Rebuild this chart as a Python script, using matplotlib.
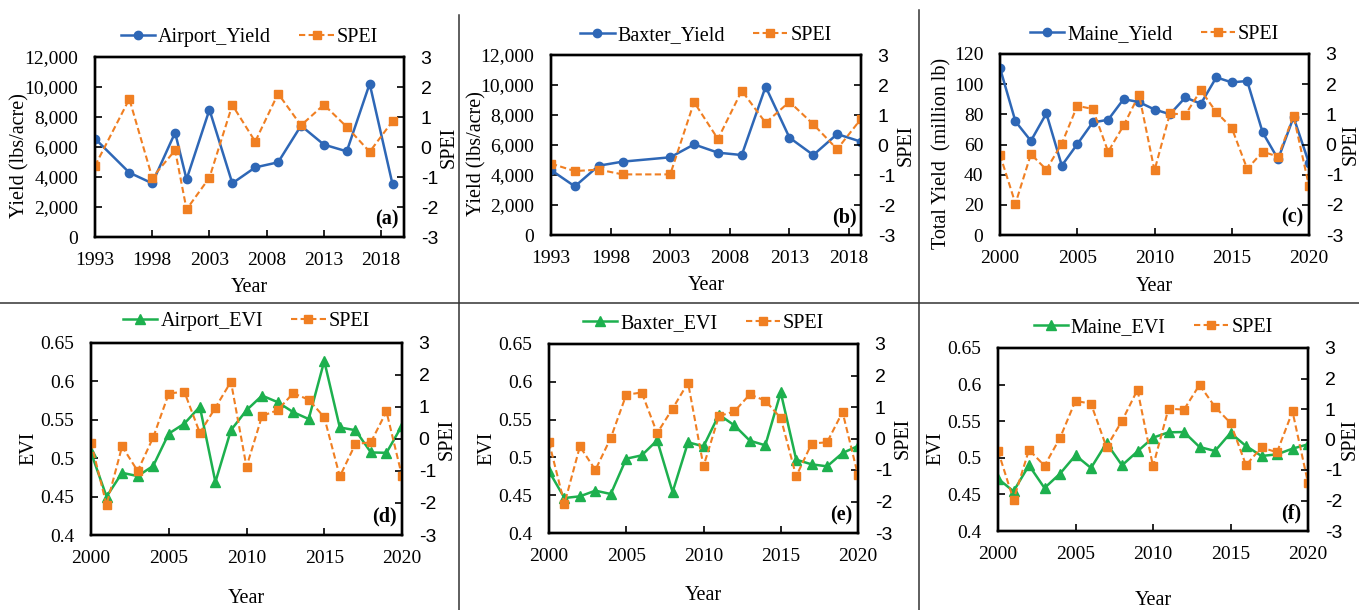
import matplotlib
matplotlib.use("Agg")
import matplotlib.pyplot as plt
from matplotlib.lines import Line2D

plt.rcParams["axes.unicode_minus"] = False

W, H = 1359, 610

BLUE = "#2E67B6"
ORANGE = "#F07F22"
GREEN = "#1DB04E"
SERIF = "Liberation Serif"
SANS = "Liberation Sans"

# ---- yield data (irregular years) ----
yield_years_a = [1993, 1996, 1998, 2000, 2001, 2003, 2005, 2007, 2009, 2011, 2013, 2015, 2017, 2019]
airport_yield = [6560, 4290, 3580, 6960, 3840, 8490, 3580, 4640, 4980, 7420, 6160, 5710, 10220, 3510]
airport_spei = [-0.63, 1.60, -1.02, -0.11, -2.08, -1.02, 1.40, 0.18, 1.78, 0.72, 1.41, 0.67, -0.16, 0.86]

yield_years_b = [1993, 1995, 1997, 1999, 2003, 2005, 2007, 2009, 2011, 2013, 2015, 2017, 2019]
baxter_yield = [4330, 3240, 4620, 4890, 5180, 6040, 5490, 5330, 9890, 6490, 5330, 6730, 6220]
baxter_spei = [-0.62, -0.87, -0.82, -0.98, -0.98, 1.43, 0.20, 1.81, 0.74, 1.44, 0.69, -0.14, 0.87]

years = list(range(2000, 2021))
maine_yield = [110.7, 75.3, 62.4, 80.6, 46.0, 60.2, 74.6, 76.4, 90.1, 88.1, 83.2,
               80.1, 91.2, 87.0, 104.5, 101.2, 102.1, 68.0, 50.3, 78.1, 47.6]
maine_spei_c = [-0.34, -1.96, -0.32, -0.83, 0.03, 1.28, 1.18, -0.24, 0.63, 1.65, -0.86,
                1.03, 0.99, 1.80, 1.07, 0.55, -0.81, -0.24, -0.40, 0.95, -1.38]

# ---- EVI data 2000-2020 ----
airport_evi = [0.5075, 0.450, 0.481, 0.4767, 0.490, 0.532, 0.545, 0.567, 0.469, 0.5365, 0.5625,
               0.5815, 0.573, 0.560, 0.551, 0.6266, 0.540, 0.5365, 0.5075, 0.507, 0.5425]
airport_spei_evi = [-0.11, -2.06, -0.23, -1.00, 0.05, 1.42, 1.48, 0.19, 0.98, 1.79, -0.87,
                    0.72, 0.90, 1.43, 1.23, 0.68, -1.17, -0.16, -0.10, 0.86, -1.16]

baxter_evi = [0.4816, 0.4463, 0.4485, 0.456, 0.4516, 0.4983, 0.5027, 0.5226, 0.4542, 0.520, 0.5146,
              0.5565, 0.5424, 0.5221, 0.516, 0.586, 0.497, 0.4908, 0.4882, 0.5058, 0.5151]
baxter_spei_evi = [-0.12, -2.07, -0.25, -1.00, 0.02, 1.39, 1.46, 0.17, 0.95, 1.77, -0.88,
                   0.71, 0.86, 1.40, 1.20, 0.65, -1.20, -0.16, -0.12, 0.84, -1.17]

maine_evi = [0.4715, 0.4542, 0.4897, 0.4587, 0.4783, 0.5034, 0.4861, 0.5202, 0.4897, 0.5088, 0.5275,
             0.5348, 0.5352, 0.5148, 0.5093, 0.5339, 0.5161, 0.5025, 0.5047, 0.5125, 0.5184]
maine_spei_evi = [-0.37, -1.98, -0.34, -0.86, 0.05, 1.27, 1.17, -0.25, 0.61, 1.63, -0.88,
                  1.01, 0.98, 1.79, 1.07, 0.54, -0.84, -0.26, -0.42, 0.92, -1.42]


def px_axes(fig, left, top, right, bottom):
    return fig.add_axes([left / W, 1 - bottom / H, (right - left) / W, (bottom - top) / H])


def panel(fig, box, x, y, spei, name, color, marker, xlim, xticks, ylim, yticks, yfmt,
          ylabel, letter, ylab_x, xlab_y, spei_x=1.145):
    ax = px_axes(fig, *box)
    ax.plot(x, y, color=color, marker=marker, markersize=6.5 if marker == "^" else 6,
            linewidth=1.8, label=name, zorder=3)
    ax2 = ax.twinx()
    ax2.plot(x, spei, color=ORANGE, marker="s", markersize=6, linewidth=1.5,
             linestyle=(0, (3, 1.6)), label="SPEI", zorder=2)

    ax.set_xlim(*xlim)
    ax.set_xticks(xticks)
    ax.set_ylim(*ylim)
    ax.set_yticks(yticks)
    ax.set_yticklabels([yfmt(v) for v in yticks])
    ax2.set_ylim(-3, 3)
    ax2.set_yticks(range(-3, 4))

    for a in (ax, ax2):
        for s in a.spines.values():
            s.set_linewidth(1.7)
        a.tick_params(direction="in", length=5, width=1.2)
    ax.tick_params(axis="y", labelsize=14, pad=12)
    ax.tick_params(axis="x", labelsize=14, pad=11)
    for lab in ax.get_xticklabels() + ax.get_yticklabels():
        lab.set_fontfamily(SERIF)
    ax2.tick_params(axis="y", labelsize=14, pad=12)
    for lab in ax2.get_yticklabels():
        lab.set_fontfamily(SANS)

    ax.text(ylab_x, 0.45, ylabel, transform=ax.transAxes, rotation=90, ha="center",
            va="center", fontsize=14.5, family=SERIF)
    ax.text(spei_x, 0.5, "SPEI", transform=ax.transAxes, rotation=90, ha="center",
            va="center", fontsize=14.5, family=SERIF)
    ax.text(0.5, xlab_y, "Year", transform=ax.transAxes, ha="center", va="center",
            fontsize=14.5, family=SERIF)
    ax.text(0.945, 0.095, "(" + letter + ")", transform=ax.transAxes, ha="center",
            va="center", fontsize=14.5, family=SERIF, fontweight="bold")

    handles = [ax.get_lines()[0], ax2.get_lines()[0]]
    ax.legend(handles, [name, "SPEI"], loc="center", bbox_to_anchor=(0.5, 1.11),
              ncol=2, frameon=False, handlelength=1.7, handletextpad=0.15,
              columnspacing=1.4, prop={"family": SERIF, "size": 14.5})
    return ax


fig = plt.figure(figsize=(W / 100, H / 100), dpi=100)

thousands = lambda v: f"{v:,}"
plain = lambda v: f"{v:g}"

yield_ticks = list(range(0, 12001, 2000))
evi_ticks = [0.4, 0.45, 0.5, 0.55, 0.6, 0.65]

panel(fig, (95, 57, 404, 237), yield_years_a, airport_yield, airport_spei, "Airport_Yield",
      BLUE, "o", (1993, 2020), range(1993, 2019, 5), (0, 12000), yield_ticks, thousands,
      "Yield (lbs/acre)", "a", -0.243, -0.283)
panel(fig, (551, 55, 861, 235), yield_years_b, baxter_yield, baxter_spei, "Baxter_Yield",
      BLUE, "o", (1993, 2019), range(1993, 2019, 5), (0, 12000), yield_ticks, thousands,
      "Yield (lbs/acre)", "b", -0.239, -0.283)
panel(fig, (1000, 54, 1309, 235), years, maine_yield, maine_spei_c, "Maine_Yield",
      BLUE, "o", (2000, 2020), range(2000, 2021, 5), (0, 120), list(range(0, 121, 20)), plain,
      "Total Yield  (million lb)", "c", -0.188, -0.283, spei_x=1.135)

panel(fig, (91, 343, 402, 535), years, airport_evi, airport_spei_evi, "Airport_EVI",
      GREEN, "^", (2000, 2020), range(2000, 2021, 5), (0.4, 0.65), evi_ticks, plain,
      "EVI", "d", -0.2, -0.33)
panel(fig, (549, 344, 858, 533), years, baxter_evi, baxter_spei_evi, "Baxter_EVI",
      GREEN, "^", (2000, 2020), range(2000, 2021, 5), (0.4, 0.65), evi_ticks, plain,
      "EVI", "e", -0.2, -0.33)
panel(fig, (998, 348, 1308, 531), years, maine_evi, maine_spei_evi, "Maine_EVI",
      GREEN, "^", (2000, 2020), range(2000, 2021, 5), (0.4, 0.65), evi_ticks, plain,
      "EVI", "f", -0.2, -0.38, spei_x=1.135)

# divider lines
line_kw = dict(transform=fig.transFigure, color="#333333", linewidth=1.1)
fig.add_artist(Line2D([459 / W, 459 / W], [0, 1 - 15 / H], **line_kw))
fig.add_artist(Line2D([919 / W, 919 / W], [0, 1 - 10 / H], **line_kw))
fig.add_artist(Line2D([0, 1], [1 - 303 / H, 1 - 303 / H], **line_kw))

fig.savefig("out.png", dpi=100)
